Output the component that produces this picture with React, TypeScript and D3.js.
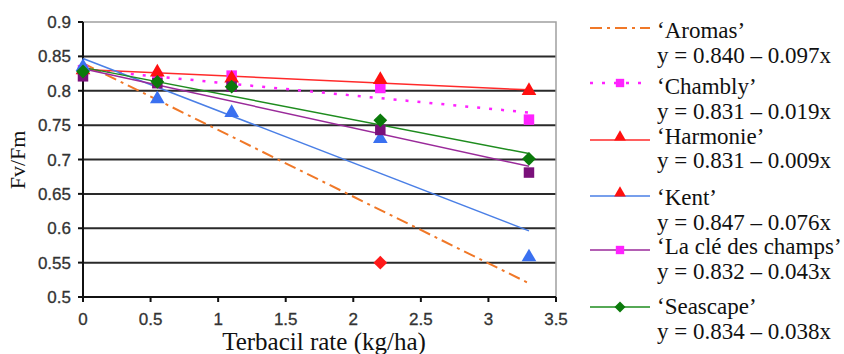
import React from 'react';
import * as d3 from 'd3';

// terbacil rates (kg/ha)
const rates = [0, 0.55, 1.1, 2.2, 3.3];

const aromasPts = [{ x: 2.2, y: 0.55 }];
const chambly = [0.83, 0.82, 0.822, 0.804, 0.758];
const harmonie = [0.83, 0.827, 0.818, 0.816, 0.8];
const kent = [0.835, 0.788, 0.768, 0.73, 0.558];
const laCle = [0.821, 0.811, 0.806, 0.743, 0.681];
const seascape = [0.828, 0.813, 0.806, 0.757, 0.701];

// regression coefficients (intercept, slope)
const fits = [
  { name: '‘Aromas’', a: 0.84, b: -0.097, eq: 'y = 0.840 – 0.097x' },
  { name: '‘Chambly’', a: 0.831, b: -0.019, eq: 'y = 0.831 – 0.019x' },
  { name: '‘Harmonie’', a: 0.831, b: -0.009, eq: 'y = 0.831 – 0.009x' },
  { name: '‘Kent’', a: 0.847, b: -0.076, eq: 'y = 0.847 – 0.076x' },
  { name: '‘La clé des champs’', a: 0.832, b: -0.043, eq: 'y = 0.832 – 0.043x' },
  { name: '‘Seascape’', a: 0.834, b: -0.038, eq: 'y = 0.834 – 0.038x' },
];

const yTicks = [0.5, 0.55, 0.6, 0.65, 0.7, 0.75, 0.8, 0.85, 0.9];
const xTicks = [0, 0.5, 1, 1.5, 2, 2.5, 3, 3.5];

const styles = [
  { line: '#f07828', width: 2, dash: '12,5,3,5', marker: null, fill: '' },
  { line: '#ff22ff', width: 2.5, dash: '3,9', marker: 'square', fill: '#ff22ff' },
  { line: '#ff2a2a', width: 1.5, dash: '', marker: 'triangle', fill: '#ff1010' },
  { line: '#4a7fe6', width: 1.5, dash: '', marker: 'triangle', fill: '#3a70f0' },
  { line: '#9a2a9a', width: 1.5, dash: '', marker: 'square', fill: '#7a107a' },
  { line: '#1e8c1e', width: 1.5, dash: '', marker: 'diamond', fill: '#0b7a0b' },
];

const seriesVals = [null, chambly, harmonie, kent, laCle, seascape];

const x = d3.scaleLinear().domain([0, 3.5]).range([83, 556]);
const y = d3.scaleLinear().domain([0.5, 0.9]).range([297, 22]);

const symType: Record<string, d3.SymbolType> = {
  square: d3.symbolSquare,
  triangle: d3.symbolTriangle,
  diamond: d3.symbolDiamond2,
};

function Marker({ kind, fill, cx, cy, size = 110 }: { kind: string; fill: string; cx: number; cy: number; size?: number }) {
  const s = kind === 'triangle' ? size * 0.85 : kind === 'diamond' ? size * 1.1 : size;
  const p = d3.symbol().type(symType[kind]).size(s)();
  return <path d={p || ''} fill={fill} transform={`translate(${cx},${cy})`} />;
}

export default function App() {
  const legendTop = [28, 83, 140, 196, 250, 307];
  const nameY = [38, 94, 144, 205, 254, 314];
  const eqY = [63, 119, 168, 230, 279, 339];
  const serif = '"Liberation Serif", "Times New Roman", serif';
  const sans = "Arial, 'Liberation Sans', sans-serif";
  return (
    <svg width={844} height={354} style={{ position: 'absolute', left: 0, top: 0, background: '#fff' }}>
      {/* gridlines */}
      {yTicks.filter(t => t > 0.5 && t < 0.9).map(t => (
        <line key={t} x1={x(0)} x2={x(3.5)} y1={y(t)} y2={y(t)} stroke="#2a2a2a" strokeWidth={2} />
      ))}
      {/* plot border top/right */}
      <polyline points={`${x(0)},${y(0.9)} ${x(3.5)},${y(0.9)} ${x(3.5)},${y(0.5)}`} fill="none" stroke="#a0a0a0" strokeWidth={1.5} />
      {/* axes */}
      <line x1={x(0)} x2={x(0)} y1={y(0.9)} y2={y(0.5)} stroke="#111" strokeWidth={2} />
      <line x1={x(0)} x2={x(3.5)} y1={y(0.5)} y2={y(0.5)} stroke="#111" strokeWidth={2} />
      {yTicks.map(t => (
        <g key={t}>
          <line x1={x(0) - 5} x2={x(0)} y1={y(t)} y2={y(t)} stroke="#111" strokeWidth={2} />
          <text x={x(0) - 12} y={y(t)} dy="0.36em" textAnchor="end" fontFamily={sans} fontSize={17} fill="#333" stroke="#333" strokeWidth={0.3}>
            {t}
          </text>
        </g>
      ))}
      {xTicks.map(t => (
        <g key={t}>
          <line x1={x(t)} x2={x(t)} y1={y(0.5)} y2={y(0.5) + 5} stroke="#111" strokeWidth={2} />
          <text x={x(t)} y={325} textAnchor="middle" fontFamily={sans} fontSize={17} fill="#333" stroke="#333" strokeWidth={0.3}>
            {t}
          </text>
        </g>
      ))}

      {/* trend lines */}
      {fits.map((f, i) => (
        <line
          key={f.name}
          x1={x(0)}
          x2={x(3.3)}
          y1={y(f.a)}
          y2={y(f.a + f.b * 3.3)}
          stroke={styles[i].line}
          strokeWidth={styles[i].width}
          strokeDasharray={styles[i].dash || undefined}
        />
      ))}

      {/* markers */}
      {aromasPts.map((p, j) => (
        <Marker key={'ar' + j} kind="diamond" fill="#ff1a1a" cx={x(p.x)} cy={y(p.y)} />
      ))}
      {seriesVals.map((vals, i) =>
        vals
          ? vals.map((v, j) => (
              <Marker key={i + '-' + j} kind={styles[i].marker as string} fill={styles[i].fill} cx={x(rates[j])} cy={y(v)} />
            ))
          : null
      )}

      {/* axis titles */}
      <text transform={`translate(25,${160}) rotate(-90)`} textAnchor="middle" fontFamily={serif} fontSize={22} fill="#111">
        Fv/Fm
      </text>
      <text x={324} y={350} textAnchor="middle" fontFamily={serif} fontSize={25} fill="#111">
        Terbacil rate (kg/ha)
      </text>

      {/* legend */}
      {fits.map((f, i) => (
        <g key={'lg' + i}>
          <line
            x1={590}
            x2={650}
            y1={legendTop[i]}
            y2={legendTop[i]}
            stroke={styles[i].line}
            strokeWidth={styles[i].width}
            strokeDasharray={styles[i].dash || undefined}
          />
          {styles[i].marker ? (
            <Marker kind={styles[i].marker as string} fill={i === 2 || i === 3 ? '#ff1010' : i === 4 ? '#ff22ff' : styles[i].fill} cx={620} cy={legendTop[i] - (styles[i].marker === 'triangle' ? 3 : 0)} size={70} />
          ) : null}
          <text x={657} y={nameY[i]} fontFamily={serif} fontSize={23} fill="#111">
            {f.name}
          </text>
          <text x={657} y={eqY[i]} fontFamily={serif} fontSize={23} fill="#111">
            {f.eq}
          </text>
        </g>
      ))}
    </svg>
  );
}
